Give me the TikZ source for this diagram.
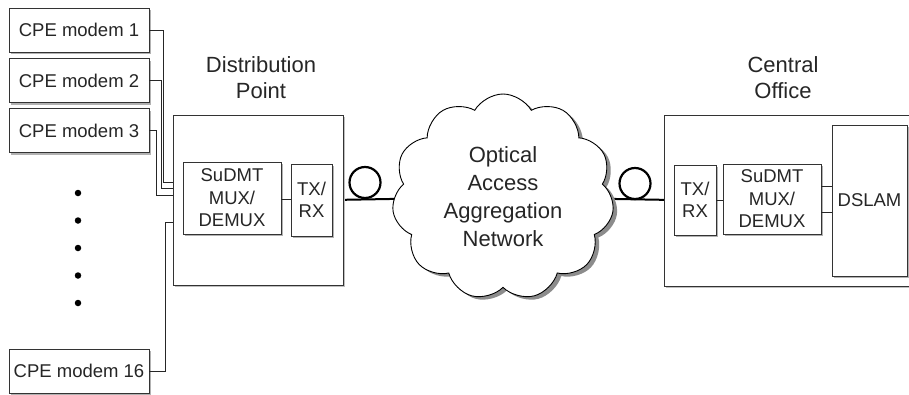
\documentclass[tikz,border=0pt]{standalone}
\usepackage{fontspec}
\setmainfont{Liberation Sans}
\usetikzlibrary{shapes.symbols,shadows,backgrounds}

\newcommand\boxfont{\fontsize{18.5}{22.5}\selectfont}
\newcommand\tagfont{\fontsize{22}{26}\selectfont}
\newcommand\netfont{\fontsize{22}{28}\selectfont}

\tikzset{
  unit/.style={draw=black!80, line width=0.9pt, fill=white, inner sep=0pt,
    align=center, text=black!85, font=\boxfont,
    drop shadow={shadow xshift=2pt, shadow yshift=-2pt, fill=black!30, opacity=1}},
  modem/.style={unit, minimum width=140pt, minimum height=44pt},
  site/.style={unit, drop shadow={shadow xshift=1.5pt, shadow yshift=-1.5pt, fill=black!25, opacity=1}},
  tag/.style={align=center, font=\tagfont, text=black!85, inner sep=0pt},
  wire/.style={draw=black!85, line width=0.8pt},
  fiber/.style={draw=black, line width=2pt},
  coil/.style={circle, draw=black, line width=2.2pt, minimum size=31pt, inner sep=0pt},
  dotmark/.style={circle, fill=black, minimum size=6.5pt, inner sep=0pt},
}

\begin{document}
\begin{tikzpicture}[x=1pt, y=-1pt]
\useasboundingbox (0,0) rectangle (909,394);

% subscriber modems
\node[modem] (m1)  at (79,30)    {CPE modem 1};
\node[modem] (m2)  at (79,80.5)  {CPE modem 2};
\node[modem] (m3)  at (79,130.5) {CPE modem 3};
\node[modem] (m16) at (79,371)   {CPE modem 16};

\foreach \k/\yy in {1/193,2/220.5,3/248,4/275.5,5/303}
  \node[dotmark] (dot\k) at (78,\yy) {};

% distribution point
\node[site, minimum width=170pt, minimum height=170pt] (dp) at (258,200) {};
\node[unit, minimum width=98pt, minimum height=72pt] (dpmux) at (232,198) {SuDMT\\MUX/\\DEMUX};
\node[unit, minimum width=41pt, minimum height=72pt] (dptx) at (311.5,200) {TX/\\RX};
\node[tag] (dplabel) at (261,78) {Distribution\\Point};

% central office
\node[site, minimum width=251pt, minimum height=171pt] (co) at (789.5,200.5) {};
\node[unit, minimum width=42pt, minimum height=70pt] (cotx) at (695,200) {TX/\\RX};
\node[unit, minimum width=98pt, minimum height=70pt] (comux) at (772,199) {SuDMT\\MUX/\\DEMUX};
\node[unit, minimum width=75pt, minimum height=151pt] (dslam) at (869.5,200.5) {DSLAM};
\node[tag] (colabel) at (783,78) {Central\\Office};

% aggregation network
\node[cloud, cloud puffs=11, cloud puff arc=120, aspect=1.05,
      minimum width=222pt, minimum height=206pt,
      draw=black, line width=0.9pt, fill=white,
      drop shadow={shadow xshift=4pt, shadow yshift=-3pt, fill=black!45, opacity=1},
      align=center, font=\netfont, text=black!85, inner sep=0pt]
      (net) at (503,197) {Optical\\Access\\Aggregation\\Network};

% fiber spools
\node[coil] (c1) at (365,182.5) {};
\node[coil] (c2) at (635,183.5) {};

% fiber links, drawn under the cloud
\begin{scope}[on background layer]
  \draw[fiber] (dptx.east) -- (net.center);
  \draw[fiber] (net.center) -- (cotx.west |- dptx.east);
\end{scope}

% drop lines into the distribution point
\draw[wire] (m1.east)  -- ++(14,0) |- (dp.west |- 0,182);
\draw[wire] (m2.east)  -- ++(11.5,0) |- (dp.west |- 0,188.5);
\draw[wire] (m3.east)  -- ++(7,0) |- (dp.west |- 0,195);
\draw[wire] (m16.east) -- ++(16,0) |- (dp.west |- 0,222);

% internal links
\draw[wire] (dpmux.east |- 0,199) -- (dptx.west |- 0,199);
\draw[wire] (cotx.east) -- (comux.west |- cotx.east);
\draw[wire] (comux.east |- 0,186) -- (dslam.west |- 0,186);
\draw[wire] (comux.east |- 0,212) -- (dslam.west |- 0,212);
\end{tikzpicture}
\end{document}
